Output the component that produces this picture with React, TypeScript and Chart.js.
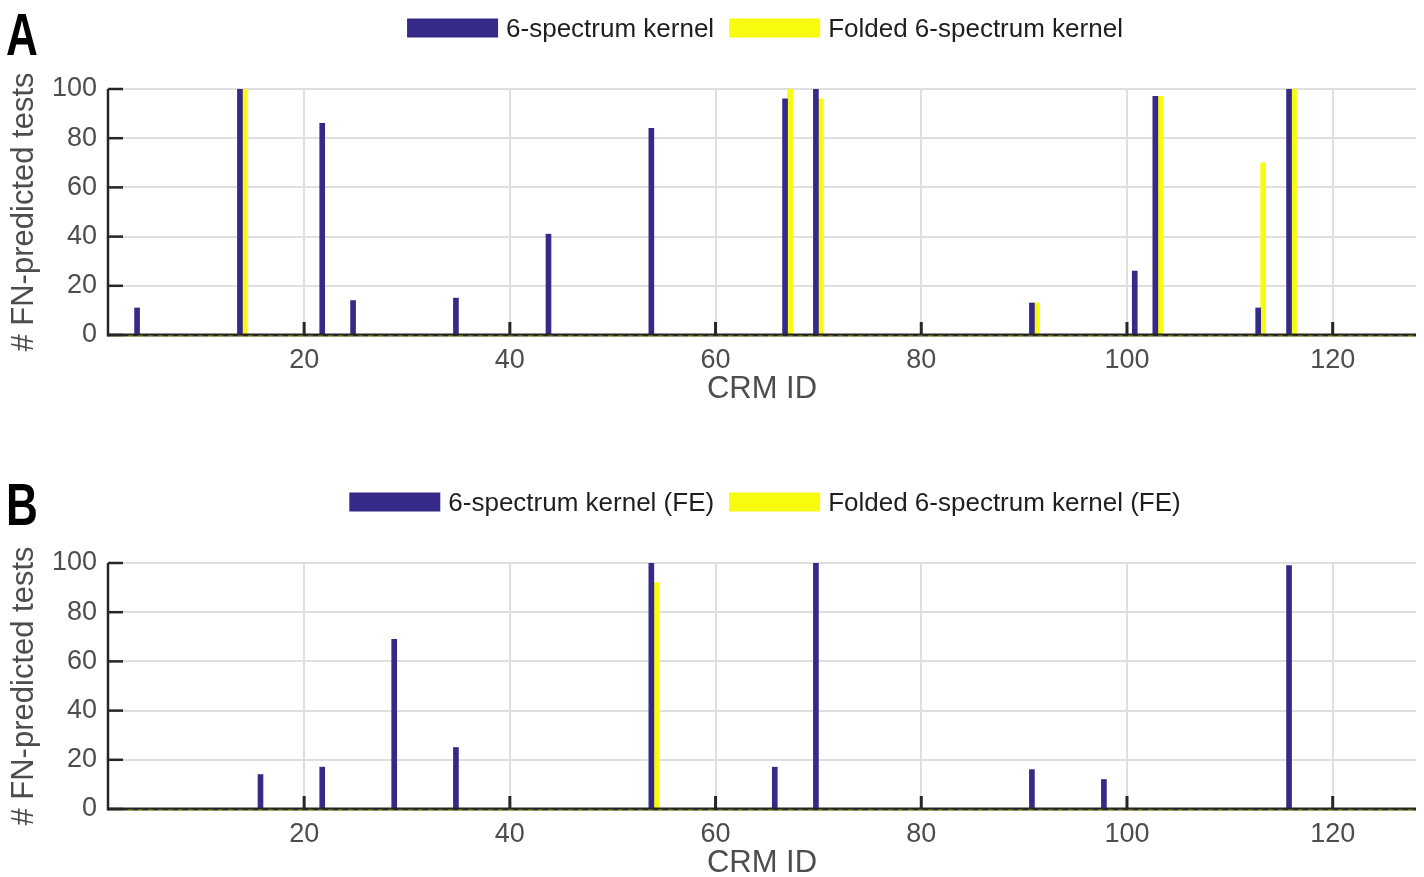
import React, { useEffect, useRef } from 'react';
import { Chart, registerables } from 'chart.js';

Chart.register(...registerables);

// ---- data ----
const xTicks = [20, 40, 60, 80, 100, 120];
const yTicks = [0, 20, 40, 60, 80, 100];

const legendNamesA = ['6-spectrum kernel', 'Folded 6-spectrum kernel'];
const legendNamesB = ['6-spectrum kernel (FE)', 'Folded 6-spectrum kernel (FE)'];

// Panel A
const crmIdsA_spec = [4, 14, 22, 25, 35, 44, 54, 67, 70, 91, 101, 103, 113, 116];
const valuesA_spec = [11, 100, 86, 14, 15, 41, 84, 96, 100, 13, 26, 97, 11, 100];
const crmIdsA_fold = [14, 67, 70, 91, 103, 113, 116];
const valuesA_fold = [100, 100, 96, 13, 97, 70, 100];

// Panel B
const crmIdsB_spec = [16, 22, 29, 35, 54, 66, 70, 91, 98, 116];
const valuesB_spec = [14, 17, 69, 25, 100, 17, 100, 16, 12, 99];
const crmIdsB_fold = [54];
const valuesB_fold = [92];

const BLUE = '#352a87';
const YELLOW = '#f9fb0e';
const FONT = "'Liberation Sans', Arial, Helvetica, sans-serif";
const AXIS = '#262626';
const TEXT_GRAY = '#4d4d4d';

type PanelProps = {
  label: string;
  labelBaseline: number;
  names: string[];
  ids1: number[];
  vals1: number[];
  ids2: number[];
  vals2: number[];
  top: number;
};

function Panel({ label, labelBaseline, names, ids1, vals1, ids2, vals2, top }: PanelProps) {
  const ref = useRef<HTMLCanvasElement>(null);

  useEffect(() => {
    if (!ref.current) return;
    const decor = {
      id: 'matlabDecor',
      afterDatasetsDraw(chart: any) {
        const { ctx, chartArea, scales } = chart;
        const xs = scales.x;
        const ys = scales.y;
        const y0 = ys.getPixelForValue(0);
        ctx.save();
        // baseline (zero bars)
        ctx.strokeStyle = AXIS;
        ctx.lineWidth = 3;
        ctx.beginPath();
        ctx.moveTo(chartArea.left, y0);
        ctx.lineTo(chartArea.right, y0);
        ctx.stroke();
        ctx.strokeStyle = 'rgba(200,200,20,0.75)';
        ctx.lineWidth = 1;
        ctx.setLineDash([5, 5]);
        ctx.beginPath();
        ctx.moveTo(chartArea.left, y0 + 1);
        ctx.lineTo(chartArea.right, y0 + 1);
        ctx.stroke();
        ctx.setLineDash([]);
        // left axis
        ctx.strokeStyle = AXIS;
        ctx.lineWidth = 2.5;
        ctx.beginPath();
        ctx.moveTo(chartArea.left, chartArea.top);
        ctx.lineTo(chartArea.left, y0 + 1.5);
        ctx.stroke();
        // inward tick marks
        yTicks.forEach((v) => {
          const py = ys.getPixelForValue(v);
          ctx.beginPath();
          ctx.moveTo(chartArea.left, py);
          ctx.lineTo(chartArea.left + 15, py);
          ctx.stroke();
        });
        ctx.lineWidth = 3;
        xTicks.forEach((v) => {
          const px = xs.getPixelForValue(v);
          ctx.beginPath();
          ctx.moveTo(px, y0);
          ctx.lineTo(px, y0 - 13);
          ctx.stroke();
        });
        ctx.restore();
      },
      afterDraw(chart: any) {
        const { ctx } = chart;
        ctx.save();
        // legend
        ctx.font = `26px ${FONT}`;
        const w1 = ctx.measureText(names[0]).width;
        const w2 = ctx.measureText(names[1]).width;
        const boxW = 91, boxH = 19, gapText = 8, gapItem = 15;
        const total = boxW + gapText + w1 + gapItem + boxW + gapText + w2;
        let x = 765 - total / 2;
        const boxTop = 18.5;
        const baseline = 37;
        ctx.textBaseline = 'alphabetic';
        ctx.textAlign = 'left';
        ctx.fillStyle = BLUE;
        ctx.fillRect(x, boxTop, boxW, boxH);
        x += boxW + gapText;
        ctx.fillStyle = '#1e1e1e';
        ctx.fillText(names[0], x, baseline);
        x += w1 + gapItem;
        ctx.fillStyle = YELLOW;
        ctx.fillRect(x, boxTop, boxW, boxH);
        x += boxW + gapText;
        ctx.fillStyle = '#1e1e1e';
        ctx.fillText(names[1], x, baseline);
        // panel label
        ctx.font = `bold 48px ${FONT}`;
        ctx.fillStyle = '#000';
        ctx.translate(6, labelBaseline);
        ctx.scale(0.92, 1.22);
        ctx.fillText(label, 0, 0);
        ctx.restore();
      },
    };

    const chart = new Chart(ref.current, {
      type: 'bar',
      data: {
        datasets: [
          {
            label: names[0],
            data: ids1.map((id, i) => ({ x: id, y: vals1[i] })),
            backgroundColor: BLUE,
            barThickness: 5,
          },
          {
            label: names[1],
            data: ids2.map((id, i) => ({ x: id, y: vals2[i] })),
            backgroundColor: YELLOW,
            barThickness: 5,
          },
        ],
      } as any,
      options: {
        responsive: false,
        animation: false,
        layout: { padding: { top: 89, right: 8, left: 0, bottom: 0 } },
        plugins: { legend: { display: false }, tooltip: { enabled: false } },
        scales: {
          x: {
            type: 'linear',
            min: 0.93,
            max: 128.1,
            offset: false,
            grid: { offset: false, color: '#dfdfdf', lineWidth: 2, drawTicks: false },
            border: { display: false },
            ticks: {
              color: TEXT_GRAY,
              font: { family: FONT, size: 27 },
              padding: 9,
              maxRotation: 0,
            },
            afterBuildTicks: (s: any) => {
              s.ticks = xTicks.map((v) => ({ value: v }));
            },
            afterFit: (s: any) => {
              s.height = 85;
            },
            title: {
              display: true,
              text: 'CRM ID',
              color: TEXT_GRAY,
              font: { family: FONT, size: 31 },
              padding: { top: 0, bottom: 12 },
            },
          },
          y: {
            type: 'linear',
            min: 0,
            max: 100,
            grid: { color: '#dfdfdf', lineWidth: 2, drawTicks: false },
            border: { display: false },
            ticks: {
              color: TEXT_GRAY,
              font: { family: FONT, size: 27 },
              padding: 11,
            },
            afterBuildTicks: (s: any) => {
              s.ticks = yTicks.map((v) => ({ value: v }));
            },
            afterFit: (s: any) => {
              s.width = 108;
            },
            title: {
              display: true,
              text: '# FN-predicted tests',
              color: TEXT_GRAY,
              font: { family: FONT, size: 31 },
              padding: { top: 6, bottom: 0 },
            },
          },
        },
      } as any,
      plugins: [decor],
    });
    return () => chart.destroy();
  }, []);

  return (
    <canvas
      ref={ref}
      width={1424}
      height={420}
      style={{ position: 'absolute', left: 0, top, display: 'block' }}
    />
  );
}

export default function App() {
  return (
    <div
      style={{
        position: 'fixed',
        left: 0,
        top: 0,
        width: 1424,
        height: 877,
        overflow: 'hidden',
        background: '#ffffff',
      }}
    >
      <Panel
        label="A"
        labelBaseline={55}
        names={legendNamesA}
        ids1={crmIdsA_spec}
        vals1={valuesA_spec}
        ids2={crmIdsA_fold}
        vals2={valuesA_fold}
        top={0}
      />
      <Panel
        label="B"
        labelBaseline={51}
        names={legendNamesB}
        ids1={crmIdsB_spec}
        vals1={valuesB_spec}
        ids2={crmIdsB_fold}
        vals2={valuesB_fold}
        top={474}
      />
    </div>
  );
}
